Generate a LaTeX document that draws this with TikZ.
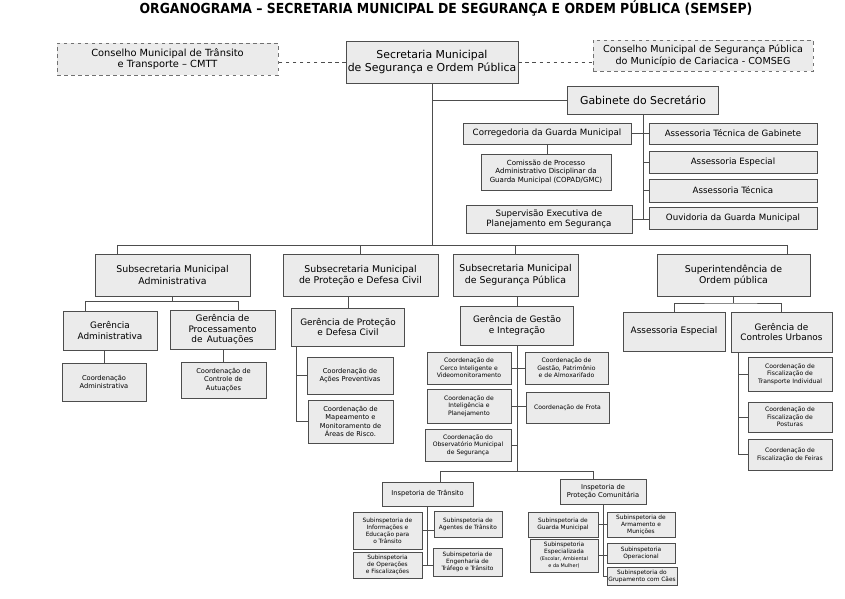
\documentclass[tikz,border=0pt]{standalone}
\usepackage{fontspec}
\setmainfont{DejaVu Sans}
\newfontfamily\titlefont{DejaVu Sans}[FakeStretch=0.9]
\definecolor{caixa}{HTML}{EBEBEB}
\definecolor{borda}{HTML}{4D4D4D}
\tikzset{
    box/.style={draw=borda, fill=caixa, line width=0.7pt, align=center, inner sep=1pt},
    dashbox/.style={box, dashed, draw=borda!80},
    sz/.style 2 args={minimum width=#1*0.3mm, minimum height=#2*0.3mm},
    lig/.style={draw=borda, line width=0.7pt},
    f1/.style={font=\fontsize{9.3}{11}\selectfont},
    f2/.style={font=\fontsize{8}{9.6}\selectfont},
    f3/.style={font=\fontsize{7.6}{9.1}\selectfont},
    f4/.style={font=\fontsize{7.4}{8.8}\selectfont},
    f5/.style={font=\fontsize{5.7}{7}\selectfont},
    f6/.style={font=\fontsize{5.2}{6.4}\selectfont},
    f7/.style={font=\fontsize{5}{6}\selectfont},
}

\begin{document}
\begin{tikzpicture}[x=0.3mm, y=-0.3mm]
    \useasboundingbox (0,0) rectangle (845,599);
    \node[font=\titlefont\bfseries\fontsize{11.8}{13}\selectfont] (titulo) at (446,8.5) {ORGANOGRAMA – SECRETARIA MUNICIPAL DE SEGURANÇA E ORDEM PÚBLICA (SEMSEP)};

%% topo
    \node[box, f1, sz={172}{42}] (sec) at (432,62) {Secretaria Municipal\\de Segurança e Ordem Pública};
    \node[dashbox, font=\fontsize{8.4}{10}\selectfont, sz={221}{32}] (cmtt) at (167.5,59) {Conselho Municipal de Trânsito\\e Transporte – CMTT};
    \node[dashbox, font=\fontsize{8.2}{9.8}\selectfont, sz={220}{31}] (comseg) at (703,55.5) {Conselho Municipal de Segurança Pública\\do Município de Cariacica - COMSEG};
    \draw[lig, dashed] (sec.west) -- (sec.west -| cmtt.east);
    \draw[lig, dashed] (sec.east) -- (sec.east -| comseg.west);

%% gabinete
    \node[box, f1, sz={151}{28}] (gab) at (643,100) {Gabinete do Secretário};
    \node[box, f4, sz={168}{21}] (correg) at (547,133.5) {Corregedoria da Guarda Municipal};
    \node[box, font=\fontsize{6}{7.4}\selectfont, sz={130}{36}] (copad) at (546,172) {Comissão de Processo\\Administrativo Disciplinar da\\Guarda Municipal (COPAD/GMC)};
    \node[box, f4, sz={166}{28}] (superv) at (549,219) {Supervisão Executiva de\\Planejamento em Segurança};
    \node[box, f4, sz={168}{21}] (atg) at (733,133.5) {Assessoria Técnica de Gabinete};
    \node[box, f4, sz={168}{22}] (aesp) at (733,162) {Assessoria Especial};
    \node[box, f4, sz={168}{23}] (atec) at (733,190.5) {Assessoria Técnica};
    \node[box, f4, sz={168}{22}] (ouv) at (733,218) {Ouvidoria da Guarda Municipal};
    \draw[lig] (gab.west) -- (gab.west -| sec.south);
    \draw[lig] (gab.south) -- (gab.south |- superv.east);
    \draw[lig] (correg.east) -- (atg.west);
    \draw[lig] (correg.south) -- (correg.south |- copad.north);
    \draw[lig] (aesp.west) -- (aesp.west -| gab.south);
    \draw[lig] (atec.west) -- (atec.west -| gab.south);
    \draw[lig] (superv.east) -- (superv.east -| ouv.west);

%% subsecretarias
    \coordinate (bl) at (117,245);
    \coordinate (br) at (787,245);
    \node[box, f2, sz={155}{42}] (smadm) at (172.5,275) {Subsecretaria Municipal\\Administrativa};
    \node[box, f2, sz={155}{42}] (smpdc) at (360.5,275) {Subsecretaria Municipal\\de Proteção e Defesa Civil};
    \node[box, f2, sz={125}{42}] (smsp) at (515.5,275) {Subsecretaria Municipal\\de Segurança Pública};
    \node[box, f2, sz={153}{42}] (sop) at (733.5,275) {Superintendência de\\Ordem pública};
    \draw[lig] (sec.south) -- (sec.south |- bl);
    \draw[lig] (bl) -- (br);
    \draw[lig] (bl) -- (bl |- smadm.north);
    \draw[lig] (br) -- (br |- sop.north);
    \draw[lig] (smpdc.north) -- (smpdc.north |- bl);
    \draw[lig] (smsp.north) -- (smsp.north |- bl);

%% administrativa
    \coordinate (al) at (85,301);
    \coordinate (ar) at (238,301);
    \node[box, f3, sz={94}{39}] (gadm) at (110,330.5) {Gerência\\Administrativa};
    \node[box, f3, sz={105}{39}] (gproc) at (222.5,329.5) {Gerência de\\Processamento\\de\, Autuações};
    \node[box, f5, sz={84}{38}] (cadm) at (104,382) {Coordenação\\Administrativa};
    \node[box, f5, sz={85}{36}] (cctrl) at (223.5,380) {Coordenação de\\Controle de\\Autuações};
    \draw[lig] (smadm.south) -- (smadm.south |- al);
    \draw[lig] (al) -- (ar);
    \draw[lig] (al) -- (al |- gadm.north);
    \draw[lig] (ar) -- (ar |- gproc.north);
    \draw[lig] (cadm.north) -- (cadm.north |- gadm.south);
    \draw[lig] (cctrl.north) -- (cctrl.north |- gproc.south);

%% protecao e defesa civil
    \node[box, f3, sz={113}{38}] (gpdc) at (348,327) {Gerência de Proteção\\e Defesa Civil};
    \node[box, f5, sz={86}{37}] (cacoes) at (350,375.5) {Coordenação de\\Ações Preventivas};
    \node[box, f5, sz={85}{43}] (cmapa) at (350.5,421.5) {Coordenação de\\Mapeamento e\\Monitoramento de\\Áreas de Risco.};
    \coordinate (pp) at (296,346);
    \draw[lig] (gpdc.north) -- (gpdc.north |- smpdc.south);
    \draw[lig] (pp) |- (cmapa.west);
    \draw[lig] (cacoes.west) -- (cacoes.west -| pp);

%% seguranca publica
    \node[box, f3, sz={113}{39}] (ggi) at (517,325.5) {Gerência de Gestão\\e Integração};
    \node[box, f6, sz={84}{32}] (ccerco) at (469,368) {Coordenação de\\Cerco Inteligente e\\Videomonitoramento};
    \node[box, f6, sz={83}{32}] (cpatr) at (566.5,368) {Coordenação de\\Gestão, Patrimônio\\e de Almoxarifado};
    \node[box, f6, sz={84}{34}] (cintel) at (469,406) {Coordenação de\\Inteligência e\\Planejamento};
    \node[box, f6, sz={83}{31}] (cfrota) at (567.5,407.5) {Coordenação de Frota};
    \node[box, f6, sz={86}{32}] (cobs) at (468,445) {Coordenação do\\Observatório Municipal\\de Segurança};
    \coordinate (cl) at (440,471);
    \coordinate (cr) at (593,471);
    \draw[lig] (ggi.north) -- (ggi.north |- smsp.south);
    \draw[lig] (ggi.south) -- (ggi.south |- cl);
    \draw[lig] (ccerco.east) -- (cpatr.west);
    \draw[lig] (cintel.east) -- (cintel.east -| cfrota.west);
    \draw[lig] (cobs.east) -- (cobs.east -| ggi.south);
    \draw[lig] (cl) -- (cr);

%% inspetorias
    \node[box, f5, sz={91}{24}] (itran) at (427.5,494) {Inspetoria de Trânsito};
    \node[box, f5, sz={86}{25}] (iprot) at (603,491.5) {Inspetoria de\\Proteção Comunitária};
    \node[box, f7, sz={69}{37}] (sinfo) at (387.5,530.5) {Subinspetoria de\\Informações e\\Educação para\\o Trânsito};
    \node[box, f7, sz={68}{26}] (sagen) at (468,524) {Subinspetoria de\\Agentes de Trânsito};
    \node[box, f7, sz={69}{26}] (soper) at (387.5,565) {Subinspetoria\\de Operações\\e Fiscalizações};
    \node[box, f7, sz={69}{28}] (sengen) at (467.5,562) {Subinspetoria de\\Engenharia de\\Tráfego e Trânsito};
    \node[box, f7, sz={70}{25}] (sguarda) at (563,524.5) {Subinspetoria de\\Guarda Municipal};
    \node[box, f7, sz={68}{25}] (sarma) at (641,524.5) {Subinspetoria de\\Armamento e\\Munições};
    \node[box, f7, sz={68}{33}] (sesp) at (564,555.5) {Subinspetoria\\Especializada\\{\fontsize{4.2}{5}\selectfont(Escolar, Ambiental}\\{\fontsize{4.2}{5}\selectfont e da Mulher)}};
    \node[box, f7, sz={68}{20}] (soperac) at (641,553) {Subinspetoria\\Operacional};
    \node[box, f7, sz={70}{18}] (sgrup) at (642,576) {Subinspetoria do\\Grupamento com Cães};
    \draw[lig] (cl) -- (cl |- itran.north);
    \draw[lig] (cr) -- (cr |- iprot.north);
    \draw[lig] (itran.south) -- (itran.south |- soper.east);
    \draw[lig] (sinfo.east) -- (sinfo.east -| sagen.west);
    \draw[lig] (soper.east) -- (soper.east -| sengen.west);
    \draw[lig] (iprot.south) -- (iprot.south |- sgrup.west);
    \draw[lig] (sguarda.east) -- (sarma.west);
    \draw[lig] (sesp.east) -- (sesp.east -| soperac.west);
    \draw[lig] (sgrup.west) -- (sgrup.west -| iprot.south);

%% superintendencia
    \node[box, f3, sz={102}{39}] (aesp2) at (674,331.5) {Assessoria Especial};
    \node[box, f3, sz={101}{40}] (gcu) at (781.5,332) {Gerência de\\Controles Urbanos};
    \node[box, f6, sz={84}{34}] (cfti) at (790,374) {Coordenação de\\Fiscalização de\\Transporte Individual};
    \node[box, f6, sz={84}{30}] (cfpost) at (790,417) {Coordenação de\\Fiscalização de\\Posturas};
    \node[box, f6, sz={84}{31}] (cffeiras) at (790,454.5) {Coordenação de\\Fiscalização de Feiras};
    \coordinate (sb) at (733.5,303);
    \coordinate (up) at (738,352);
    \draw[lig] (sop.south) -- (sb);
    \draw[lig] (aesp2.north) |- (sb) -| (gcu.north);
    \draw[lig] (up) |- (cffeiras.west);
    \draw[lig] (cfti.west) -- (cfti.west -| up);
    \draw[lig] (cfpost.west) -- (cfpost.west -| up);
\end{tikzpicture}
\end{document}
